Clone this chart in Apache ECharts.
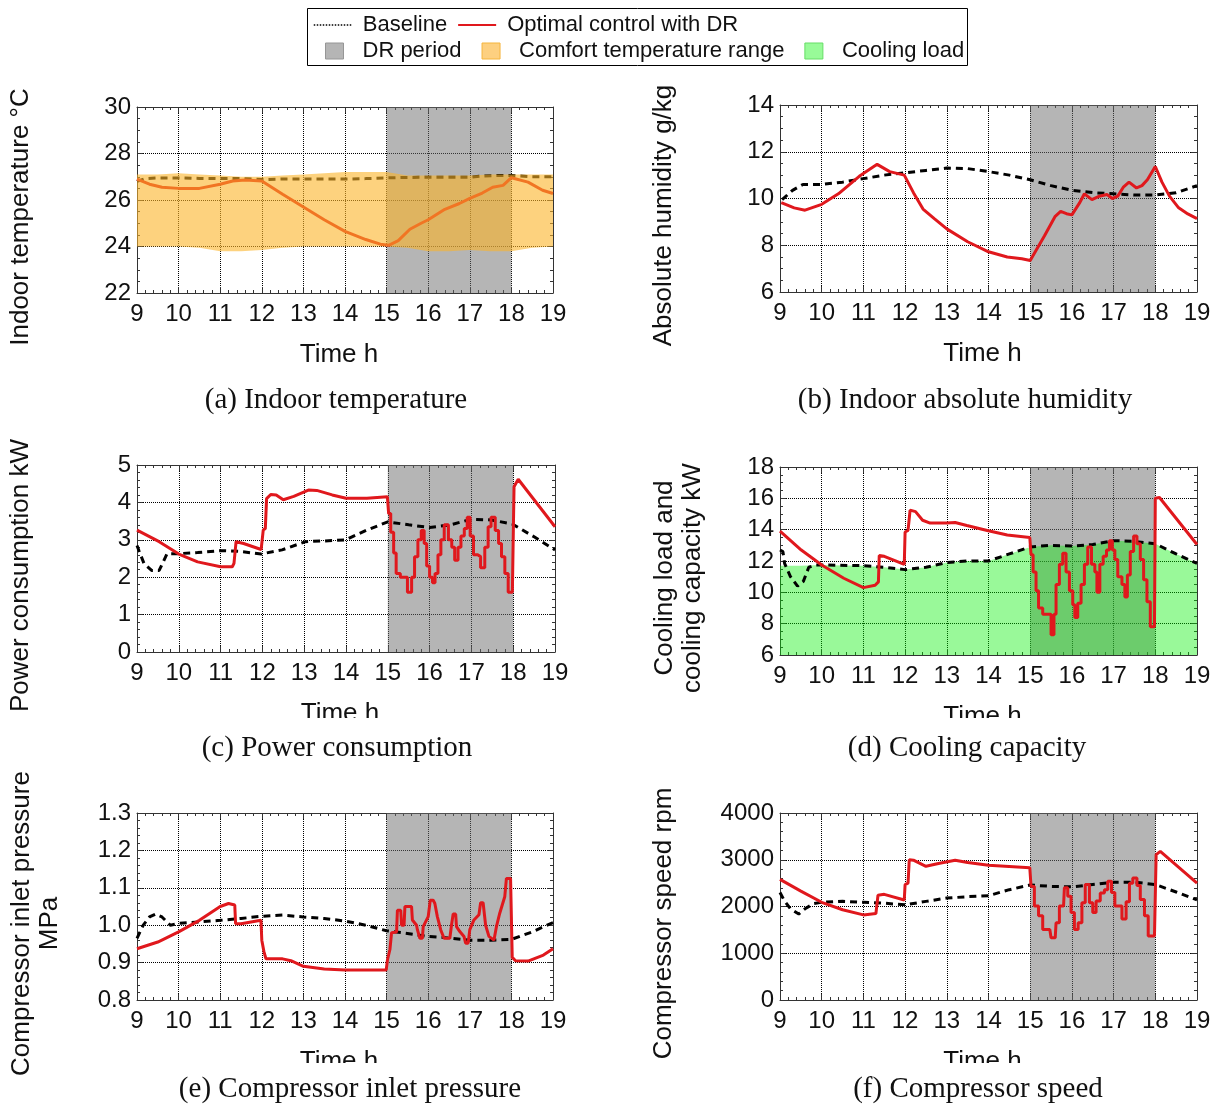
<!DOCTYPE html>
<html lang="en">
<head>
<meta charset="utf-8">
<title>Optimal control with DR</title>
<script src="https://cdn.jsdelivr.net/npm/echarts@6/dist/echarts.min.js"></script>
<style>
  html, body { margin: 0; padding: 0; background: #fff; }
  #chart { width: 1216px; height: 1108px; }
</style>
</head>
<body>
<div id="chart"></div>
<script type="text/javascript">
// ---- data (time in h) ----
var drStart = 15, drEnd = 18;

// (a) indoor temperature, degC
var tempBaseline = [[9,26.8],[9.2,26.92],[9.5,26.95],[10,26.95],[10.5,26.93],[11,26.92],[11.5,26.92],[12,26.88],[12.5,26.9],[13,26.9],[13.5,26.9],[14,26.9],[14.5,26.92],[15,26.95],[15.5,26.97],[16,26.98],[16.5,26.98],[17,26.98],[17.3,27.03],[17.6,27.05],[18,27.05],[18.5,27.0],[19,27.0]];
var tempOptimal = [[9,26.9],[9.3,26.68],[9.6,26.55],[10,26.5],[10.5,26.5],[11,26.68],[11.3,26.82],[11.6,26.86],[12,26.82],[12.5,26.25],[13,25.7],[13.5,25.15],[14,24.65],[14.5,24.3],[14.85,24.1],[15.05,24.05],[15.28,24.25],[15.56,24.74],[15.83,25.0],[16,25.15],[16.4,25.6],[16.75,25.85],[17,26.07],[17.3,26.3],[17.55,26.55],[17.8,26.63],[18,26.96],[18.4,26.77],[18.75,26.42],[19,26.28]];
var comfortTime  = [9, 9.5, 10, 10.5, 11, 11.5, 12, 12.5, 13, 13.5, 14, 14.5, 15, 15.5, 16, 16.5, 17, 17.5, 18, 18.5, 19];
var comfortUpper = [27.1, 27.1, 27.15, 27.1, 27.05, 27.0, 27.0, 27.05, 27.1, 27.15, 27.2, 27.2, 27.2, 27.05, 27.05, 27.05, 27.05, 27.1, 27.1, 27.1, 27.1];
var comfortLower = [24.0, 24.0, 24.0, 23.95, 23.8, 23.8, 23.85, 23.95, 24.0, 24.0, 24.0, 24.0, 24.0, 23.95, 23.8, 23.8, 23.85, 23.8, 23.8, 23.95, 24.0];

// (b) indoor absolute humidity, g/kg
var humBaseline = [[9.05,9.95],[9.3,10.35],[9.55,10.6],[10,10.6],[10.5,10.7],[11,10.85],[11.5,11.0],[12,11.1],[12.5,11.2],[13,11.3],[13.5,11.28],[14,11.15],[14.5,11.0],[15,10.8],[15.5,10.55],[16,10.35],[16.5,10.25],[17,10.2],[17.5,10.15],[18,10.15],[18.5,10.25],[19,10.55]];
var humOptimal = [[9.03,9.82],[9.34,9.6],[9.6,9.5],[10,9.75],[10.4,10.2],[10.9,10.95],[11.33,11.46],[11.63,11.15],[11.98,11.0],[12.2,10.25],[12.43,9.55],[12.7,9.14],[13,8.7],[13.5,8.15],[14,7.72],[14.45,7.5],[14.8,7.42],[15,7.35],[15.34,8.4],[15.6,9.24],[15.73,9.45],[15.87,9.35],[16,9.3],[16.18,9.8],[16.3,10.2],[16.48,9.95],[16.66,10.1],[16.84,10.17],[16.97,10.0],[17.1,10.1],[17.24,10.5],[17.37,10.7],[17.55,10.45],[17.68,10.55],[17.81,10.8],[18,11.37],[18.16,10.7],[18.34,10.1],[18.56,9.6],[18.78,9.34],[19,9.14]];

// (c) power consumption, kW
var powerBaseline = [[9,2.85],[9.05,2.7],[9.17,2.36],[9.35,2.18],[9.53,2.18],[9.72,2.63],[10,2.63],[10.45,2.66],[11,2.71],[11.46,2.69],[11.97,2.62],[12.47,2.73],[13.03,2.95],[13.48,2.97],[13.99,3.0],[14.5,3.26],[15,3.48],[15.5,3.4],[16,3.33],[16.5,3.4],[17,3.55],[17.48,3.53],[17.98,3.42],[18.5,3.08],[19,2.73]];
var powerOptimal = [[9,3.26],[9.53,2.95],[10,2.62],[10.45,2.41],[11,2.28],[11.28,2.28],[11.32,2.37],[11.37,2.95],[11.55,2.9],[11.97,2.74],[12.02,3.26],[12.07,3.3],[12.1,4.1],[12.2,4.21],[12.33,4.2],[12.5,4.07],[12.75,4.16],[13.1,4.33],[13.3,4.32],[13.67,4.2],[14,4.11],[14.5,4.11],[14.99,4.15],
  [15.02,3.7],[15.07,3.7],[15.07,3.2],[15.14,3.2],[15.14,2.65],[15.2,2.65],[15.2,2.1],[15.3,2.1],[15.3,2.0],[15.47,2.0],[15.47,1.6],[15.57,1.6],[15.57,2.0],[15.64,2.0],[15.64,2.55],[15.72,2.55],[15.72,3.0],[15.8,3.0],[15.8,3.25],[15.87,3.25],[15.87,2.9],[15.93,2.9],[15.93,2.3],[16.0,2.3],[16.0,2.0],[16.07,2.0],[16.07,1.85],[16.13,1.85],[16.13,2.1],[16.2,2.1],[16.2,2.6],[16.27,2.6],[16.27,3.0],[16.35,3.0],[16.35,3.4],[16.45,3.4],[16.45,3.0],[16.53,3.0],[16.53,2.8],[16.6,2.8],[16.6,2.45],[16.68,2.45],[16.68,2.8],[16.75,2.8],[16.75,3.1],[16.83,3.1],[16.83,3.3],[16.9,3.3],[16.9,3.6],[16.97,3.6],[16.97,3.1],[17.05,3.1],[17.05,2.6],[17.15,2.6],[17.15,2.55],[17.22,2.55],[17.22,2.25],[17.32,2.25],[17.32,2.8],[17.4,2.8],[17.4,3.35],[17.47,3.35],[17.47,3.6],[17.57,3.6],[17.57,3.25],[17.65,3.25],[17.65,2.9],[17.72,2.9],[17.72,2.55],[17.8,2.55],[17.8,2.1],[17.88,2.1],[17.88,1.6],[17.98,1.6],
  [18.02,4.42],[18.12,4.62],[19,3.35]];

// (d) cooling load and cooling capacity, kW
var capBaseline = [[9,12.7],[9.07,12.6],[9.11,11.85],[9.25,11.0],[9.42,10.4],[9.56,10.7],[9.69,11.6],[9.86,11.75],[10,11.75],[11,11.7],[11.5,11.6],[12,11.45],[12.5,11.6],[13,11.9],[13.5,12.0],[14,12.0],[14.5,12.45],[15,12.9],[15.5,13.0],[16,12.95],[16.5,13.05],[17,13.3],[17.5,13.25],[18,13.1],[18.5,12.45],[19,11.85]];
var coolingLoad = [[9,11.7],[9.5,11.7],[10,11.75],[10.5,11.72],[11,11.7],[11.5,11.6],[12,11.45],[12.5,11.6],[13,11.9],[13.5,12.0],[14,12.0],[14.5,12.45],[15,12.9],[15.5,13.0],[16,12.95],[16.5,13.05],[17,13.3],[17.5,13.25],[18,13.1],[18.5,12.45],[19,11.85]];
var capOptimal = [[9,13.9],[9.51,12.7],[10,11.75],[10.53,10.9],[11,10.3],[11.28,10.45],[11.36,10.67],[11.38,12.35],[11.5,12.3],[11.98,11.78],[12.0,13.85],[12.07,13.95],[12.12,15.25],[12.25,15.15],[12.42,14.6],[12.6,14.42],[13,14.42],[13.2,14.46],[13.48,14.27],[13.97,13.95],[14.45,13.66],[14.99,13.5],
  [15.02,12.4],[15.07,12.4],[15.07,11.3],[15.14,11.3],[15.14,10.1],[15.2,10.1],[15.2,9.0],[15.3,9.0],[15.3,8.6],[15.5,8.6],[15.5,7.3],[15.57,7.3],[15.57,8.6],[15.62,8.6],[15.62,10.5],[15.7,10.5],[15.7,11.8],[15.78,11.8],[15.78,12.5],[15.86,12.5],[15.86,11.3],[15.94,11.3],[15.94,10.1],[16.02,10.1],[16.02,9.2],[16.07,9.2],[16.07,8.4],[16.14,8.4],[16.14,9.3],[16.22,9.3],[16.22,10.5],[16.3,10.5],[16.3,11.8],[16.38,11.8],[16.38,12.9],[16.47,12.9],[16.47,11.8],[16.55,11.8],[16.55,11.3],[16.6,11.3],[16.6,10.0],[16.67,10.0],[16.67,11.8],[16.75,11.8],[16.75,12.3],[16.83,12.3],[16.83,12.7],[16.9,12.7],[16.9,13.3],[16.97,13.3],[16.97,12.7],[17.03,12.7],[17.03,12.1],[17.1,12.1],[17.1,11.0],[17.2,11.0],[17.2,10.5],[17.27,10.5],[17.27,9.7],[17.33,9.7],[17.33,11.1],[17.4,11.1],[17.4,12.6],[17.48,12.6],[17.48,13.6],[17.56,13.6],[17.56,13.1],[17.64,13.1],[17.64,12.1],[17.72,12.1],[17.72,10.8],[17.8,10.8],[17.8,9.4],[17.88,9.4],[17.88,7.8],[17.98,7.8],
  [18.0,16.0],[18.1,16.05],[19,13.05]];

// (e) compressor inlet pressure, MPa
var pressBaseline = [[9,0.965],[9.15,1.0],[9.3,1.022],[9.45,1.03],[9.6,1.022],[9.8,1.0],[10,1.005],[10.5,1.009],[11,1.013],[11.5,1.018],[12,1.024],[12.5,1.027],[13,1.022],[13.5,1.018],[14,1.011],[14.5,1.0],[15,0.985],[15.5,0.978],[16,0.97],[16.5,0.966],[17,0.96],[17.5,0.96],[18,0.962],[18.5,0.982],[19,1.007]];
var pressOptimal = [[9,0.937],[9.5,0.955],[10,0.982],[10.5,1.013],[11,1.05],[11.2,1.058],[11.35,1.054],[11.37,1.004],[11.5,1.004],[11.98,1.013],[12.0,0.96],[12.05,0.93],[12.1,0.91],[12.5,0.91],[12.7,0.905],[13,0.89],[13.5,0.883],[14,0.88],[14.99,0.88],
  [15.02,0.907],[15.08,0.935],[15.12,0.98],[15.24,0.982],[15.26,1.04],[15.34,1.04],[15.36,1.0],[15.42,1.0],[15.44,1.05],[15.6,1.05],[15.62,1.014],[15.72,1.0],[15.74,0.988],[15.8,0.965],[15.86,0.965],[15.88,0.996],[16.0,1.023],[16.05,1.067],[16.12,1.067],[16.16,1.058],[16.22,1.023],[16.3,0.988],[16.38,0.965],[16.52,0.965],[16.56,1.0],[16.6,1.03],[16.66,1.03],[16.68,0.996],[16.76,0.983],[16.86,0.97],[16.9,0.952],[16.96,0.952],[17.0,0.988],[17.1,1.014],[17.22,1.028],[17.26,1.06],[17.32,1.06],[17.38,1.0],[17.46,0.97],[17.58,0.96],[17.64,0.996],[17.72,1.032],[17.84,1.076],[17.88,1.125],[17.98,1.125],
  [18.02,0.914],[18.1,0.905],[18.4,0.904],[18.77,0.92],[19,0.937]];

// (f) compressor speed, rpm
var speedBaseline = [[9,2300],[9.1,2130],[9.25,1950],[9.45,1840],[9.6,1950],[9.8,2060],[10,2090],[10.5,2110],[11,2090],[11.5,2070],[12,2035],[12.5,2110],[13,2180],[13.5,2210],[14,2230],[14.5,2360],[15,2460],[15.5,2430],[16,2420],[16.5,2470],[17,2520],[17.5,2520],[18,2470],[18.5,2310],[19,2140]];
var speedOptimal = [[9,2580],[9.5,2330],[10,2090],[10.5,1930],[11,1820],[11.3,1850],[11.35,2240],[11.5,2260],[11.98,2140],[12.0,2470],[12.07,2500],[12.1,3000],[12.2,2990],[12.5,2860],[12.8,2920],[13.2,2990],[13.5,2940],[14,2880],[14.99,2830],
  [15.02,2430],[15.1,2430],[15.1,2010],[15.2,2010],[15.2,1800],[15.3,1800],[15.3,1510],[15.47,1510],[15.5,1330],[15.6,1330],[15.62,1650],[15.7,1650],[15.7,2010],[15.8,2010],[15.82,2400],[15.9,2400],[15.9,2220],[15.98,2220],[15.98,1870],[16.06,1870],[16.06,1510],[16.15,1510],[16.15,1650],[16.24,1650],[16.24,2080],[16.32,2080],[16.32,2470],[16.42,2470],[16.42,2080],[16.5,2080],[16.5,1870],[16.58,1870],[16.58,2120],[16.68,2120],[16.68,2290],[16.78,2290],[16.78,2360],[16.86,2360],[16.86,2540],[16.95,2540],[16.95,2300],[17.03,2300],[17.03,2010],[17.2,2010],[17.2,1730],[17.3,1730],[17.3,2100],[17.38,2100],[17.38,2500],[17.46,2500],[17.46,2610],[17.56,2610],[17.56,2450],[17.64,2450],[17.64,2150],[17.74,2150],[17.74,1800],[17.83,1800],[17.83,1370],[17.98,1370],
  [18.02,3110],[18.12,3180],[19,2500]];

var captions = ['(a) Indoor temperature', '(b) Indoor absolute humidity', '(c) Power consumption',
                '(d) Cooling capacity', '(e) Compressor inlet pressure', '(f) Compressor speed'];
var yNames = ['Indoor temperature °C', 'Absolute humidity g/kg', 'Power consumption kW',
              'Cooling load and\ncooling capacity kW', 'Compressor inlet pressure\nMPa', 'Compressor speed rpm'];
var pairs = [[tempBaseline, tempOptimal], [humBaseline, humOptimal], [powerBaseline, powerOptimal],
             [capBaseline, capOptimal], [pressBaseline, pressOptimal], [speedBaseline, speedOptimal]];

// ---- layout ----
var FONT = "'Liberation Sans', Arial, sans-serif";
var SERIF = "'Liberation Serif', 'Times New Roman', serif";
var INK = '#111';
var FRAME = '#333';
var RED = '#e0181d';

var panels = [
    {left: 137, top: 107, width: 416, height: 186, min: 22,  max: 30,   step: 2,    minor: 4, gap: 102, capX: 336, capY: 386},
    {left: 780, top: 105, width: 417, height: 187, min: 6,   max: 14,   step: 2,    minor: 4, gap: 102, capX: 965, capY: 386},
    {left: 137, top: 465, width: 418, height: 187, min: 0,   max: 5,    step: 1,    minor: 5, gap: 102, capX: 337, capY: 734},
    {left: 780, top: 467, width: 417, height: 188, min: 6,   max: 18,   step: 2,    minor: 4, gap: 73,  capX: 967, capY: 734},
    {left: 137, top: 813, width: 416, height: 187, min: 0.8, max: 1.3,  step: 0.1,  minor: 5, gap: 73,  capX: 350, capY: 1075, digits: 1},
    {left: 780, top: 813, width: 417, height: 187, min: 0,   max: 4000, step: 1000, minor: 5, gap: 102, capX: 978, capY: 1075}
];

var grids = [], xAxes = [], yAxes = [], titles = [], series = [];
var tickStyle = {color: FRAME, width: 1};
var dotted = {color: '#000', type: 'dotted', width: 1};

panels.forEach(function (p, i) {
    grids.push({left: p.left, top: p.top, width: p.width, height: p.height, outerBoundsMode: 'none'});

    // bottom + mirrored top axis (frame with inward ticks)
    xAxes.push({
        type: 'value', gridIndex: i, position: 'bottom', min: 9, max: 19, interval: 1,
        name: 'Time h', nameLocation: 'middle', nameGap: 49, nameMoveOverlap: false,
        nameTextStyle: {fontSize: 26, color: INK, fontFamily: FONT, padding: [0, 12, 0, 0]},
        axisLine: {show: true, onZero: false, lineStyle: tickStyle},
        axisTick: {show: true, inside: true, length: 6, lineStyle: tickStyle},
        minorTick: {show: true, splitNumber: 5, length: 3, lineStyle: tickStyle},
        axisLabel: {fontSize: 24, color: INK, fontFamily: FONT, margin: 9},
        splitLine: {show: true, lineStyle: dotted}
    });
    xAxes.push({
        type: 'value', gridIndex: i, position: 'top', min: 9, max: 19, interval: 1,
        axisLine: {show: true, onZero: false, lineStyle: tickStyle},
        axisTick: {show: true, inside: true, length: 6, lineStyle: tickStyle},
        minorTick: {show: true, splitNumber: 5, length: 3, lineStyle: tickStyle},
        axisLabel: {show: false}, splitLine: {show: false}
    });

    yAxes.push({
        type: 'value', gridIndex: i, position: 'left', min: p.min, max: p.max, interval: p.step,
        name: yNames[i], nameLocation: 'middle', nameGap: p.gap, nameMoveOverlap: false,
        nameTextStyle: {fontSize: 26, color: INK, fontFamily: FONT, lineHeight: 28, padding: [0, 34, 0, 0]},
        axisLine: {show: true, onZero: false, lineStyle: tickStyle},
        axisTick: {show: true, inside: true, length: 6, lineStyle: tickStyle},
        minorTick: {show: true, splitNumber: p.minor, length: 3, lineStyle: tickStyle},
        axisLabel: {fontSize: 24, color: INK, fontFamily: FONT, margin: 6,
            formatter: function (v) { return p.digits ? v.toFixed(p.digits) : String(v); }},
        splitLine: {show: true, lineStyle: dotted}
    });
    yAxes.push({
        type: 'value', gridIndex: i, position: 'right', min: p.min, max: p.max, interval: p.step,
        axisLine: {show: true, onZero: false, lineStyle: tickStyle},
        axisTick: {show: true, inside: true, length: 6, lineStyle: tickStyle},
        minorTick: {show: true, splitNumber: p.minor, length: 3, lineStyle: tickStyle},
        axisLabel: {show: false}, splitLine: {show: false}
    });

    titles.push({
        text: captions[i], left: p.capX, top: p.capY, textAlign: 'center', padding: 0,
        textStyle: {fontSize: 29, fontWeight: 'normal', color: INK, fontFamily: SERIF}
    });

    // DR period shading
    series.push({
        name: 'DR period', type: 'line', xAxisIndex: 2 * i, yAxisIndex: 2 * i, data: [], silent: true,
        itemStyle: {color: '#b5b5b5'},
        markArea: {
            silent: true, itemStyle: {color: 'rgba(107,107,107,0.5)'},
            data: [[{xAxis: drStart}, {xAxis: drEnd}]]
        }
    });
    series.push({
        name: 'Baseline', type: 'line', xAxisIndex: 2 * i, yAxisIndex: 2 * i, data: pairs[i][0],
        symbol: 'none', z: 3, silent: true,
        itemStyle: {color: '#000'}, lineStyle: {color: '#000', width: 3, type: [7, 5]}
    });
    series.push({
        name: 'Optimal control with DR', type: 'line', xAxisIndex: 2 * i, yAxisIndex: 2 * i, data: pairs[i][1],
        symbol: 'none', z: 3, silent: true,
        itemStyle: {color: RED}, lineStyle: {color: RED, width: 3}
    });
});

// comfort band on top of the lines in (a)
series.push({
    name: 'Comfort temperature range', type: 'custom', xAxisIndex: 0, yAxisIndex: 0, z: 4, silent: true,
    itemStyle: {color: '#fdd080'},
    data: comfortTime.map(function (t, k) { return [t, comfortLower[k], comfortUpper[k]]; }),
    encode: {x: 0, y: [1, 2]},
    renderItem: function (params, api) {
        if (params.dataIndex !== 0) return;
        var pts = [], k;
        for (k = 0; k < comfortTime.length; k++) pts.push(api.coord([comfortTime[k], comfortUpper[k]]));
        for (k = comfortTime.length - 1; k >= 0; k--) pts.push(api.coord([comfortTime[k], comfortLower[k]]));
        return {type: 'polygon', shape: {points: pts}, style: {fill: 'rgba(251,180,40,0.6)'}};
    }
});

// cooling load area in (d)
series.push({
    name: 'Cooling load', type: 'line', xAxisIndex: 6, yAxisIndex: 6, data: coolingLoad,
    symbol: 'none', z: 2, silent: true,
    itemStyle: {color: '#98fb98'}, lineStyle: {width: 0},
    areaStyle: {color: 'rgba(0,240,0,0.4)', opacity: 1, origin: 'start'}
});

var option = {
    animation: false,
    backgroundColor: '#fff',
    title: titles,
    legend: [
        {
            left: 313, top: 14, padding: 0, itemWidth: 38, itemHeight: 12, itemGap: 10, selectedMode: false,
            textStyle: {fontSize: 22, color: INK, fontFamily: FONT, padding: [0, 0, 0, 6]},
            data: [
                {name: 'Baseline', itemStyle: {opacity: 0}, lineStyle: {color: '#000', width: 1.5, type: 'dotted'}},
                {name: 'Optimal control with DR', itemStyle: {opacity: 0}, lineStyle: {color: RED, width: 2}}
            ]
        },
        {
            left: 325, top: 40, padding: 0, itemWidth: 18, itemHeight: 16, itemGap: 20, selectedMode: false,
            textStyle: {fontSize: 22, color: INK, fontFamily: FONT, padding: [0, 0, 0, 14]},
            data: [
                {name: 'DR period', icon: 'rect', itemStyle: {color: '#b5b5b5', borderColor: '#969696', borderWidth: 1}},
                {name: 'Comfort temperature range', icon: 'rect', itemStyle: {color: '#fdd080', borderColor: '#f5b53c', borderWidth: 1}},
                {name: 'Cooling load', icon: 'rect', itemStyle: {color: '#98fb98', borderColor: '#66dd66', borderWidth: 1}}
            ]
        }
    ],
    grid: grids,
    xAxis: xAxes,
    yAxis: yAxes,
    series: series,
    graphic: [
        // legend frame
        {type: 'rect', z: 100, silent: true, shape: {x: 307.5, y: 8.5, width: 660, height: 57},
            style: {fill: 'none', stroke: '#000', lineWidth: 1}},
        // the lower panels' "Time h" are cut off in the source figure
        {type: 'rect', z: 100, silent: true, shape: {x: 270, y: 718, width: 140, height: 15}, style: {fill: '#fff'}},
        {type: 'rect', z: 100, silent: true, shape: {x: 910, y: 718, width: 140, height: 15}, style: {fill: '#fff'}},
        {type: 'rect', z: 100, silent: true, shape: {x: 270, y: 1063, width: 140, height: 12}, style: {fill: '#fff'}},
        {type: 'rect', z: 100, silent: true, shape: {x: 910, y: 1063, width: 140, height: 12}, style: {fill: '#fff'}}
    ]
};

var chart = echarts.init(document.getElementById('chart'));
chart.setOption(option);
</script>
</body>
</html>
